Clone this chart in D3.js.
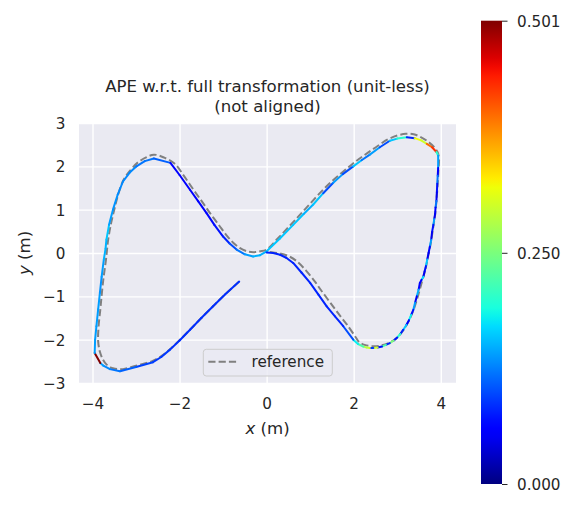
<!DOCTYPE html>
<html>
<head>
<meta charset="utf-8">
<script src="https://cdn.jsdelivr.net/npm/d3@7"></script>
<style>
html,body{margin:0;padding:0;background:#fff;}
svg{display:block;font-family:"DejaVu Sans",sans-serif;}
</style>
</head>
<body>
<svg id="chart" width="578" height="508"></svg>
<script>
// ---------- data ----------
const titleLines = ["APE w.r.t. full transformation (unit-less)", "(not aligned)"];
const xTicks = [-4, -2, 0, 2, 4];
const yTicks = [-3, -2, -1, 0, 1, 2, 3];
const cbarTicks = [0.000, 0.250, 0.501];
const errMin = 0.0, errMax = 0.501;
const legendLabel = "reference";

// estimated trajectory (m) and APE value at each vertex
const estX = [-0.63,-0.95,-1.23,-1.50,-1.76,-2.00,-2.22,-2.42,-2.61,-3.00,-3.37,-3.60,-3.75,-3.82,
  -3.95,-3.94,-3.91,-3.87,-3.83,-3.79,-3.74,-3.70,-3.68,-3.62,-3.53,-3.42,-3.30,-3.15,-2.99,-2.80,-2.59,
  -2.21,-2.00,-1.76,-1.57,-1.38,-1.20,-1.00,-0.85,-0.69,-0.50,-0.31,-0.15,0.00,
  0.30,0.61,0.85,1.07,1.30,1.53,1.75,1.99,2.18,2.37,2.60,2.83,3.00,3.22,3.40,3.55,3.68,3.80,3.90,3.94,
  3.94,3.93,3.92,3.91,3.90,3.88,3.87,3.85,3.83,3.80,3.78,3.75,3.72,3.69,3.66,3.63,3.60,3.56,3.52,3.49,3.45,3.41,3.37,3.32,3.27,3.21,3.14,3.07,3.00,2.92,2.83,2.74,2.65,2.55,2.45,2.37,2.30,2.22,2.10,1.99,
  1.76,1.57,1.38,1.19,1.00,0.80,0.61,0.45,0.31,0.15,0.00];
const estY = [-0.66,-0.95,-1.23,-1.50,-1.77,-2.02,-2.23,-2.40,-2.52,-2.63,-2.73,-2.68,-2.60,-2.54,
  -2.31,-2.00,-1.69,-1.30,-0.92,-0.55,-0.15,0.10,0.31,0.65,1.00,1.35,1.65,1.85,2.00,2.12,2.18,
  2.08,1.80,1.46,1.19,0.92,0.65,0.38,0.22,0.08,-0.03,-0.08,-0.05,0.04,
  0.33,0.65,0.90,1.12,1.38,1.62,1.82,2.00,2.14,2.27,2.44,2.59,2.64,2.67,2.65,2.60,2.52,2.44,2.33,2.25,
  1.96,1.78,1.60,1.40,1.20,1.05,0.90,0.78,0.65,0.48,0.30,0.15,0.00,-0.15,-0.30,-0.42,-0.55,-0.62,-0.69,-0.85,-1.00,-1.15,-1.31,-1.43,-1.55,-1.66,-1.77,-1.87,-1.95,-2.02,-2.08,-2.12,-2.16,-2.18,-2.19,-2.19,-2.18,-2.16,-2.10,-2.00,
  -1.69,-1.46,-1.23,-0.96,-0.69,-0.45,-0.23,-0.11,-0.04,0.00,0.01];
const estErr = [0.085,0.085,0.085,0.085,0.085,0.085,0.09,0.09,0.095,0.11,0.12,0.13,0.14,0.50,
  0.14,0.14,0.14,0.14,0.135,0.14,0.15,0.15,0.16,0.14,0.135,0.13,0.13,0.13,0.12,0.12,0.11,
  0.06,0.06,0.06,0.06,0.065,0.07,0.08,0.10,0.12,0.14,0.15,0.15,0.16,
  0.16,0.16,0.15,0.16,0.10,0.14,0.10,0.16,0.12,0.14,0.10,0.16,0.20,0.08,0.32,0.30,0.40,0.43,0.20,0.14,
  0.06,0.12,0.07,0.05,0.12,0.06,0.05,0.14,0.07,0.05,0.14,0.06,0.05,0.16,0.07,0.05,0.17,0.06,0.06,0.15,0.05,0.14,0.07,0.18,0.06,0.16,0.08,0.20,0.07,0.25,0.08,0.22,0.07,0.30,0.09,0.30,0.28,0.22,0.18,0.10,
  0.08,0.08,0.08,0.08,0.08,0.08,0.08,0.08,0.08,0.08,0.08];

// reference trajectory (m)
const refX = [-0.63,-0.95,-1.23,-1.50,-1.76,-2.00,-2.22,-2.42,-2.64,-3.00,-3.30,-3.53,-3.68,-3.76,-3.83,-3.87,-3.86,-3.82,-3.80,-3.75,-3.69,-3.64,-3.57,-3.50,-3.40,-3.28,-3.12,-2.97,-2.78,-2.59,-2.35,-2.11,
  -1.90,-1.68,-1.48,-1.30,-1.10,-0.93,-0.78,-0.62,-0.45,-0.31,-0.15,0.00,0.25,0.55,0.80,1.00,1.25,1.47,1.70,1.93,2.12,2.32,2.55,2.78,3.00,3.20,3.38,3.55,3.72,3.85,3.93,3.96,
  3.95,3.93,3.90,3.87,3.83,3.78,3.72,3.66,3.58,3.48,3.38,3.27,3.14,2.98,2.80,2.60,2.40,2.25,2.12,2.05,1.85,1.65,1.45,1.25,1.11,0.90,0.68,0.50,0.30,0.12,0.00];
const refY = [-0.66,-0.95,-1.23,-1.50,-1.77,-2.01,-2.22,-2.38,-2.50,-2.60,-2.68,-2.66,-2.57,-2.46,-2.28,-2.04,-1.69,-1.30,-1.08,-0.60,-0.15,0.31,0.70,1.00,1.38,1.70,1.92,2.08,2.20,2.27,2.20,2.06,
  1.78,1.46,1.18,0.92,0.65,0.42,0.25,0.12,0.04,0.02,0.04,0.08,0.33,0.65,0.92,1.14,1.41,1.63,1.83,2.02,2.17,2.31,2.47,2.62,2.71,2.75,2.74,2.67,2.56,2.44,2.32,2.15,
  1.96,1.60,1.20,0.88,0.62,0.28,-0.02,-0.32,-0.62,-0.98,-1.30,-1.56,-1.78,-1.97,-2.08,-2.14,-2.15,-2.12,-2.05,-1.95,-1.66,-1.40,-1.13,-0.86,-0.66,-0.40,-0.18,-0.07,-0.01,0.02,0.03];

// ---------- layout ----------
const svg = d3.select("#chart");
const plot = {left: 79, right: 456, top: 123, bottom: 383};
const cbar = {left: 481, right: 502, top: 20.7, bottom: 484};
const textColor = "#262626";
const tickFont = 15.2, labelFont = 16.6;

const x = d3.scaleLinear().domain([-4.31, 4.35]).range([plot.left, plot.right]);
const y = d3.scaleLinear().domain([-3, 3]).range([plot.bottom, plot.top]);

// jet colormap (matplotlib segment data)
const jetR = [[0,0],[0.35,0],[0.66,1],[0.89,1],[1,0.5]];
const jetG = [[0,0],[0.125,0],[0.375,1],[0.64,1],[0.91,0],[1,0]];
const jetB = [[0,0.5],[0.11,1],[0.34,1],[0.65,0],[1,0]];
function seg(s, t){
  for(let i=1;i<s.length;i++){
    if(t<=s[i][0]){const a=s[i-1],b=s[i];return a[1]+(b[1]-a[1])*(t-a[0])/(b[0]-a[0]);}
  }
  return s[s.length-1][1];
}
function jet(t){
  t=Math.max(0,Math.min(1,t));
  return d3.rgb(255*seg(jetR,t),255*seg(jetG,t),255*seg(jetB,t)).formatHex();
}
const cnorm = d3.scaleLinear().domain([errMin, errMax]).range([0,1]).clamp(true);

// ---------- axes background & grid ----------
svg.append("rect").attr("x",plot.left).attr("y",plot.top)
  .attr("width",plot.right-plot.left).attr("height",plot.bottom-plot.top).attr("fill","#EAEAF2");

const gx = svg.append("g").attr("transform",`translate(0,${plot.bottom})`)
  .call(d3.axisBottom(x).tickValues(xTicks).tickSize(-(plot.bottom-plot.top)).tickPadding(0)
    .tickFormat(d=>d3.format("d")(d).replace("-","\u2212")));
gx.select(".domain").remove();
gx.selectAll(".tick line").attr("stroke","#fff").attr("stroke-width",1.4);
gx.selectAll(".tick text").attr("fill",textColor).attr("font-size",tickFont)
  .attr("font-family","DejaVu Sans").attr("dy",null).attr("y",409-plot.bottom);

const gy = svg.append("g").attr("transform",`translate(${plot.left},0)`)
  .call(d3.axisLeft(y).tickValues(yTicks).tickSize(-(plot.right-plot.left)).tickPadding(0)
    .tickFormat(d=>d3.format("d")(d).replace("-","\u2212")));
gy.select(".domain").remove();
gy.selectAll(".tick line").attr("stroke","#fff").attr("stroke-width",1.4);
gy.selectAll(".tick text").attr("fill",textColor).attr("font-size",tickFont)
  .attr("font-family","DejaVu Sans").attr("dy","0.36em").attr("x",65.5-plot.left);

// ---------- clip ----------
svg.append("clipPath").attr("id","clip").append("rect")
  .attr("x",plot.left).attr("y",plot.top).attr("width",plot.right-plot.left).attr("height",plot.bottom-plot.top);
const g = svg.append("g").attr("clip-path","url(#clip)");

// reference
const refPts = refX.map((v,i)=>[v,refY[i]]);
g.append("path").datum(refPts)
  .attr("d", d3.line().x(d=>x(d[0])).y(d=>y(d[1])).curve(d3.curveCatmullRom.alpha(0.5)))
  .attr("fill","none").attr("stroke","#808080").attr("stroke-width",2)
  .attr("stroke-dasharray","7.2,3.1");

// estimate, segment-coloured
const segs = d3.range(estX.length-1).map(i=>({x1:estX[i],y1:estY[i],x2:estX[i+1],y2:estY[i+1],e:estErr[i]}));
g.selectAll("line.est").data(segs).join("line").attr("class","est")
  .attr("x1",d=>x(d.x1)).attr("y1",d=>y(d.y1)).attr("x2",d=>x(d.x2)).attr("y2",d=>y(d.y2))
  .attr("stroke",d=>jet(cnorm(d.e))).attr("stroke-width",2).attr("stroke-linecap","round");

// ---------- legend ----------
const lg = svg.append("g");
lg.append("rect").attr("x",203.3).attr("y",349.3).attr("width",129).attr("height",26.7).attr("rx",3)
  .attr("fill","#EAEAF2").attr("fill-opacity",0.8).attr("stroke","#cccccc").attr("stroke-width",1);
lg.append("line").attr("x1",208.3).attr("x2",238.3).attr("y1",361.7).attr("y2",361.7)
  .attr("stroke","#808080").attr("stroke-width",2).attr("stroke-dasharray","7.2,3.1");
lg.append("text").attr("x",251.5).attr("y",367).attr("fill",textColor).attr("font-size",tickFont).text(legendLabel);

// ---------- titles and axis labels ----------
svg.selectAll("text.title").data(titleLines).join("text").attr("class","title")
  .attr("x",(plot.left+plot.right)/2).attr("y",(d,i)=>91.7+i*20.4)
  .attr("text-anchor","middle").attr("fill",textColor).attr("font-size",labelFont).text(d=>d);

const xl = svg.append("text").attr("x",(plot.left+plot.right)/2).attr("y",433.6)
  .attr("text-anchor","middle").attr("fill",textColor).attr("font-size",labelFont);
xl.append("tspan").attr("font-style","italic").text("x");
xl.append("tspan").text(" (m)");

const yl = svg.append("text").attr("transform",`translate(29.8,${(plot.top+plot.bottom)/2}) rotate(-90)`)
  .attr("text-anchor","middle").attr("fill",textColor).attr("font-size",labelFont);
yl.append("tspan").attr("font-style","italic").text("y");
yl.append("tspan").text(" (m)");

// ---------- colorbar ----------
const grad = svg.append("defs").append("linearGradient").attr("id","jetgrad")
  .attr("x1","0").attr("y1","1").attr("x2","0").attr("y2","0");
grad.selectAll("stop").data(d3.range(0,1.0001,0.02)).join("stop")
  .attr("offset",d=>d).attr("stop-color",d=>jet(d));
svg.append("rect").attr("x",cbar.left).attr("y",cbar.top).attr("width",cbar.right-cbar.left)
  .attr("height",cbar.bottom-cbar.top).attr("fill","url(#jetgrad)");

const cy = d3.scaleLinear().domain([errMin, errMax]).range([cbar.bottom, cbar.top]);
const gc = svg.append("g").attr("transform",`translate(${cbar.right},0)`)
  .call(d3.axisRight(cy).tickValues(cbarTicks).tickSize(5.5).tickPadding(9.5).tickFormat(d3.format(".3f")));
gc.select(".domain").remove();
gc.selectAll(".tick line").attr("stroke",textColor).attr("stroke-width",1);
gc.selectAll(".tick text").attr("fill",textColor).attr("font-size",tickFont)
  .attr("font-family","DejaVu Sans").attr("dy","0.36em");
</script>
</body>
</html>
